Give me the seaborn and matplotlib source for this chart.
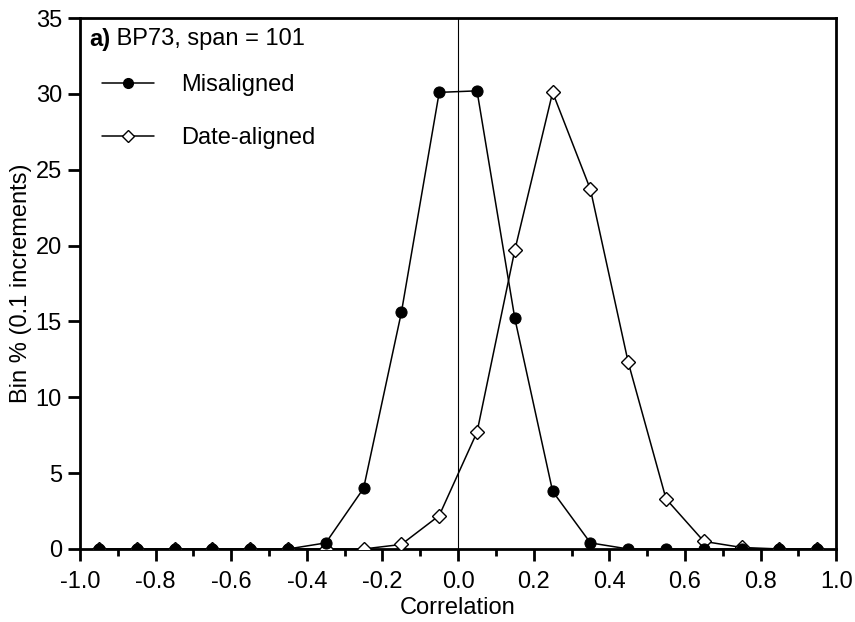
import matplotlib
matplotlib.use("Agg")
import matplotlib.pyplot as plt
import seaborn as sns
import pandas as pd
from matplotlib.ticker import MultipleLocator
from matplotlib.lines import Line2D
from matplotlib.transforms import offset_copy

bin_centers = [-0.95, -0.85, -0.75, -0.65, -0.55, -0.45, -0.35, -0.25, -0.15, -0.05,
               0.05, 0.15, 0.25, 0.35, 0.45, 0.55, 0.65, 0.75, 0.85, 0.95]
misaligned = [0, 0, 0, 0, 0, 0, 0.4, 4.0, 15.6, 30.1,
              30.2, 15.2, 3.8, 0.4, 0.0, 0, 0, 0, 0, 0]
date_aligned = [0, 0, 0, 0, 0, 0, 0, 0, 0.3, 2.2,
                7.7, 19.7, 30.1, 23.7, 12.3, 3.3, 0.5, 0.1, 0, 0]

sns.set_theme(style="ticks")
plt.rcParams['font.family'] = ['Liberation Sans', 'DejaVu Sans']
plt.rcParams['text.color'] = 'black'
plt.rcParams['axes.labelcolor'] = 'black'
FS = 17

fig = plt.figure(figsize=(8.55, 6.22), dpi=100)
ax = fig.add_axes([0.0936, 0.1174, 0.8844, 0.8536])

df = pd.DataFrame({"x": bin_centers, "mis": misaligned, "date": date_aligned})

ax.axvline(0, color="black", lw=0.8, zorder=1)

sns.lineplot(data=df, x="x", y="date", ax=ax, color="black", lw=1.1,
             marker="D", markersize=7.5, markerfacecolor="white",
             markeredgecolor="black", markeredgewidth=1.0, zorder=3)
sns.lineplot(data=df, x="x", y="mis", ax=ax, color="black", lw=1.1,
             marker="o", markersize=8, markerfacecolor="black",
             markeredgecolor="black", zorder=4)

ax.set_xlim(-1.0, 1.0)
ax.set_ylim(0, 35)
ax.xaxis.set_major_locator(MultipleLocator(0.2))
ax.xaxis.set_minor_locator(MultipleLocator(0.1))
ax.yaxis.set_major_locator(MultipleLocator(5))
ax.set_xticks(ax.get_xticks())
ax.set_xticklabels([f"{v:.1f}" for v in ax.get_xticks()])
ax.set_xlim(-1.0, 1.0)
ax.tick_params(axis="both", which="major", direction="out", length=8.5, width=2,
               labelsize=FS, color="black", labelcolor="black")
ax.tick_params(axis="x", which="major", pad=7)
ax.tick_params(axis="y", which="major", pad=4.5)
ax.tick_params(axis="x", which="minor", direction="out", length=5, width=2, color="black")
for s in ax.spines.values():
    s.set_linewidth(2)
    s.set_color("black")
    s.set_visible(True)

ax.set_xlabel("Correlation", fontsize=FS, color="black", labelpad=3)
ax.set_ylabel("Bin % (0.1 increments)", fontsize=FS, color="black", labelpad=2.5)

t1 = ax.text(0.012, 0.981, "a)", transform=ax.transAxes, fontsize=FS,
             fontweight="bold", va="top", ha="left", color="black")
fig.canvas.draw()
w = t1.get_window_extent().width
ax.text(0.012, 0.981, " BP73, span = 101",
        transform=offset_copy(ax.transAxes, fig=fig, x=w * 72 / fig.dpi, y=0, units="points"),
        fontsize=FS, va="top", ha="left", color="black")

handles = [Line2D([], [], color="black", lw=1.1, marker="o", markersize=7,
                  markerfacecolor="black", markeredgecolor="black"),
           Line2D([], [], color="black", lw=1.1, marker="D", markersize=6.5,
                  markerfacecolor="white", markeredgecolor="black")]
leg = ax.legend(handles, ["Misaligned", "Date-aligned"], loc="upper left",
                bbox_to_anchor=(0.0, 0.935), frameon=False, fontsize=FS,
                handlelength=2.2, handletextpad=1.15, labelspacing=1.3,
                borderaxespad=0.52, labelcolor="black")

fig.savefig("out.png", dpi=100)
